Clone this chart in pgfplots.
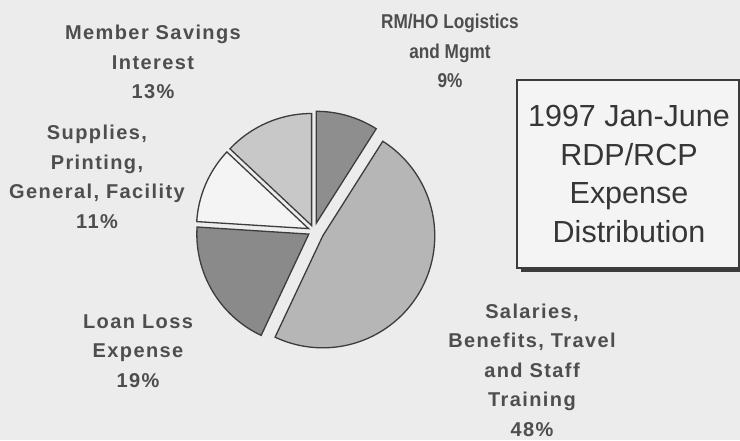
\documentclass[border=0pt]{standalone}
\usepackage{pgfplots}
\pgfplotsset{compat=1.18}
\usepackage{fontspec}
\setmainfont{Liberation Sans}
\newfontfamily\lblfont[LetterSpace=7]{Liberation Sans}
\newfontfamily\rmlblfont[FakeStretch=0.86]{Liberation Sans}
\definecolor{bg}{HTML}{ECECEC}
\definecolor{edge}{HTML}{3C3C3C}
\definecolor{cRM}{HTML}{8E8E8E}
\definecolor{cSal}{HTML}{B6B6B6}
\definecolor{cLoan}{HTML}{8A8A8A}
\definecolor{cSup}{HTML}{F4F4F4}
\definecolor{cMem}{HTML}{C8C8C8}
\definecolor{lbl}{HTML}{4E4E4E}
\definecolor{ttl}{HTML}{363636}
\begin{document}
\begin{tikzpicture}
\useasboundingbox (0,0) rectangle (740pt,440pt);
\fill[bg] (0,0) rectangle (740pt,440pt);
\begin{axis}[
  at={(0,0)}, anchor=south west,
  width=740pt, height=440pt, scale only axis,
  xmin=0, xmax=740, ymin=0, ymax=440,
  hide axis, clip=false,
]
% pie: centre (314,209), radius 112; slices clockwise from 90 deg
% RM/HO Logistics and Mgmt 9%
\addplot[fill=cRM, draw=edge, line width=1.3pt, domain={90-3.6*9}:90, samples=40, variable=\t]
  ({314+8*cos(73.8)+112*cos(\t)},{209+8*sin(73.8)+112*sin(\t)}) -- (316.2,216.7) -- cycle;
% Salaries 48%
\addplot[fill=cSal, draw=edge, line width=1.3pt, domain={57.6-3.6*48}:57.6, samples=120, variable=\t]
  ({314+10*cos(-28.8)+112*cos(\t)},{209+10*sin(-28.8)+112*sin(\t)}) -- (322.8,204.2) -- cycle;
% Loan Loss 19%
\addplot[fill=cLoan, draw=edge, line width=1.3pt, domain={-115.2-3.6*19}:-115.2, samples=60, variable=\t]
  ({314+6*cos(-149.4)+112*cos(\t)},{209+6*sin(-149.4)+112*sin(\t)}) -- (308.8,205.9) -- cycle;
% Supplies 11%
\addplot[fill=cSup, draw=edge, line width=1.3pt, domain={-183.6-3.6*11}:-183.6, samples=40, variable=\t]
  ({314+6*cos(156.6)+112*cos(\t)},{209+6*sin(156.6)+112*sin(\t)}) -- (308.5,211.4) -- cycle;
% Member Savings Interest 13%
\addplot[fill=cMem, draw=edge, line width=1.3pt, domain={-223.2-3.6*13}:-223.2, samples=40, variable=\t]
  ({314+6*cos(113.4)+112*cos(\t)},{209+6*sin(113.4)+112*sin(\t)}) -- (311.6,214.5) -- cycle;

\begin{scope}[every node/.style={align=center, text=lbl, font={\lblfont\fontsize{20}{29.5}\bfseries\selectfont}}]
\node at (axis cs:153,378) {Member Savings\\Interest\\13\%};
\node at (axis cs:97,263) {Supplies,\\Printing,\\General, Facility\\11\%};
\node at (axis cs:138,89) {Loan Loss\\Expense\\19\%};
\node at (axis cs:532,70) {Salaries,\\Benefits, Travel\\and Staff\\Training\\48\%};
\end{scope}
\node[align=center, text=lbl, font={\rmlblfont\fontsize{20}{29.5}\bfseries\selectfont}] at (axis cs:450,389) {RM/HO Logistics\\and Mgmt\\9\%};

% title box
\fill[edge] (axis cs:521,168) rectangle (axis cs:744,356);
\draw[fill=bg!60!white, draw=edge, line width=1.3pt] (axis cs:517,172) rectangle (axis cs:739,360);
\node[align=center, text=ttl, font={\fontsize{30.5}{38.5}\selectfont}] at (axis cs:629,266)
  {1997 Jan-June\\RDP/RCP\\Expense\\Distribution};
\end{axis}
\end{tikzpicture}
\end{document}
